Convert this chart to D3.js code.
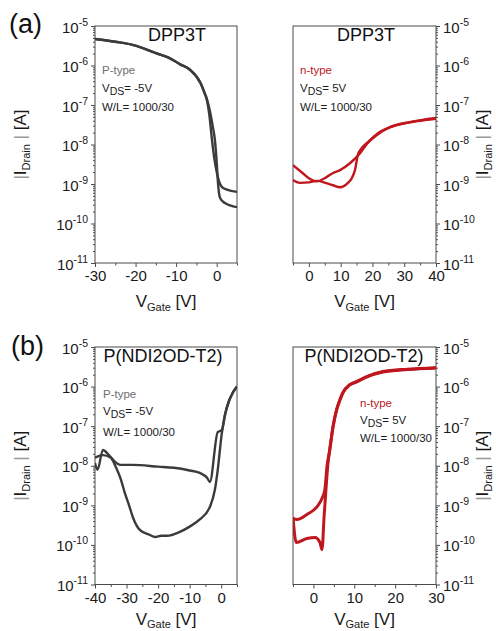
<!DOCTYPE html>
<html>
<head>
<meta charset="utf-8">
<script src="https://cdn.jsdelivr.net/npm/d3@7"></script>
<style>
  body { margin: 0; background: #fff; }
  svg { display: block; font-family: "Liberation Sans", Arial, sans-serif; }
</style>
</head>
<body>
<div id="chart"></div>
<script>
// transfer curves, [V_gate (V), |I_drain| (A)]
const dpp3tP_sweep1 = [[-30, 4.7e-6], [-25, 4.0e-6], [-20, 3.2e-6], [-15, 2.05e-6], [-12, 1.6e-6], [-9, 1.07e-6],
  [-6.6, 7.8e-7], [-4, 3.6e-7], [-3, 2.0e-7], [-2.4, 1.3e-7], [-1.8, 5.5e-8], [-1.2, 1.4e-8], [-0.6, 4.5e-9],
  [0.05, 1.9e-9], [0.6, 1.15e-9], [1.3, 8.3e-10], [2.5, 7.2e-10], [5, 6.3e-10]];
const dpp3tP_sweep2 = [[-30, 4.7e-6], [-25, 4.0e-6], [-20, 3.2e-6], [-15, 2.05e-6], [-12, 1.6e-6], [-9, 1.07e-6],
  [-6.6, 7.8e-7], [-4, 3.6e-7], [-3, 2.05e-7], [-2.4, 1.4e-7], [-1.6, 6.5e-8], [-0.9, 2.6e-8], [-0.45, 1.3e-8],
  [0, 3.5e-9], [0.3, 1.1e-9], [0.8, 4.5e-10], [2, 3.3e-10], [5, 2.6e-10]];

const dpp3tN_sweep1 = [[-5, 3.0e-9], [-2, 1.9e-9], [0, 1.4e-9], [2.5, 1.17e-9], [5, 1.4e-9], [7.6, 1.9e-9],
  [9.8, 2.24e-9], [13, 3.4e-9], [16.1, 6.0e-9], [18.3, 1.05e-8], [21.4, 1.74e-8], [25.5, 2.75e-8],
  [31.8, 3.7e-8], [40, 4.7e-8]];
const dpp3tN_sweep2 = [[-5, 1.26e-9], [-2.8, 1.07e-9], [0, 1.1e-9], [2.5, 1.2e-9], [5.5, 1.05e-9], [7.6, 9.3e-10],
  [9.8, 8.3e-10], [12.3, 1.07e-9], [13.5, 1.4e-9], [14.5, 2.24e-9], [15.4, 5.4e-9], [16.5, 7.9e-9],
  [18.3, 1.1e-8], [22.4, 2.1e-8], [27.7, 3.1e-8], [34, 3.9e-8], [40, 4.5e-8]];

const ndiP_sweep1 = [[-40, 1.17e-8], [-39.2, 7.9e-9], [-37.5, 2.5e-8], [-35.6, 1.86e-8], [-33.7, 1.26e-8],
  [-32, 1.05e-8], [-28, 1.05e-8], [-20, 9.5e-9], [-15, 8.9e-9], [-10, 7.6e-9], [-6.8, 6.6e-9], [-4.5, 5.0e-9],
  [-3.6, 3.9e-9], [-1.1, 7.1e-8], [0.2, 7.9e-8], [1.2, 2.0e-7], [2.4, 4.2e-7], [3.5, 6.6e-7], [5, 1.0e-6]];
const ndiP_sweep2 = [[-40, 1.6e-8], [-37.5, 1.86e-8], [-35, 1.6e-8], [-33.4, 9.3e-9], [-32, 5.0e-9],
  [-30.5, 2.0e-9], [-29, 8.9e-10], [-28, 5.0e-10], [-25.8, 2.4e-10], [-22.6, 1.78e-10], [-21, 1.58e-10],
  [-19, 1.7e-10], [-17.2, 1.7e-10], [-13.1, 2.14e-10], [-10, 2.9e-10], [-6.8, 4.4e-10], [-3.6, 9.1e-10],
  [-2, 2.5e-9], [-1.1, 7.9e-9], [0.2, 6.8e-8], [1.2, 1.9e-7], [2.4, 4.2e-7], [3.5, 6.6e-7], [5, 1.0e-6]];

const ndiN_sweepA = [[-5, 4.6e-10], [-4, 4.4e-10], [-1.6, 5.9e-10], [0.9, 9.3e-10], [2.2, 1.58e-9], [2.8, 2.5e-9],
  [3.3, 9.3e-9], [4.0, 2.5e-8], [4.8, 9.5e-8], [5.7, 2.6e-7], [6.5, 4.6e-7], [7.2, 6.9e-7], [8.9, 1.1e-6],
  [10.6, 1.32e-6], [13, 1.74e-6], [17, 2.34e-6], [23, 2.7e-6], [30, 2.95e-6]];
const ndiN_sweepB = [[-5, 5.0e-10], [-4.2, 1.15e-10], [-1.6, 1.45e-10], [0.4, 1.55e-10], [1.6, 1.15e-10],
  [2.1, 7.6e-11], [2.6, 5.0e-10], [3.1, 2.8e-9], [3.5, 1.0e-8], [4.0, 2.6e-8], [4.8, 1.0e-7], [5.7, 2.7e-7],
  [6.5, 4.7e-7], [7.2, 7.0e-7], [8.9, 1.12e-6], [10.6, 1.35e-6], [13, 1.78e-6], [17, 2.4e-6], [23, 2.75e-6],
  [30, 3.0e-6]];

const yDecades = [1e-11, 1e-10, 1e-9, 1e-8, 1e-7, 1e-6, 1e-5];
const xTicksA1 = [-30, -20, -10, 0], xMinorA1 = [-25, -15, -5, 5];
const xTicksA2 = [0, 10, 20, 30, 40], xMinorA2 = [-5, 5, 15, 25, 35];
const xTicksB1 = [-40, -30, -20, -10, 0], xMinorB1 = [-35, -25, -15, -5, 5];
const xTicksB2 = [0, 10, 20, 30], xMinorB2 = [-5, 5, 15, 25];

const GRAY = '#3b3b3b', RED = '#c0161d', AXIS = '#4a4a4a';

const panels = [
  { left: 95, right: 237, top: 26, bottom: 263, xDomain: [-30, 5], xTicks: xTicksA1, xMinor: xMinorA1,
    side: 'left', title: 'DPP3T', titleX: 177, type: 'P-type', typeColor: '#6e6e6e', vds: '= -5V',
    noteX: 102, noteY: [74, 92, 111], color: GRAY, width: 2.4, xTitleDy: 44,
    series: [dpp3tP_sweep1, dpp3tP_sweep2] },
  { left: 293, right: 436, top: 26, bottom: 263, xDomain: [-5, 40], xTicks: xTicksA2, xMinor: xMinorA2,
    side: 'right', title: 'DPP3T', titleX: 366, type: 'n-type', typeColor: RED, vds: '= 5V',
    noteX: 300, noteY: [74, 92, 111], color: RED, width: 2.4, xTitleDy: 44,
    series: [dpp3tN_sweep1, dpp3tN_sweep2] },
  { left: 95, right: 237, top: 347, bottom: 584.5, xDomain: [-40, 5], xTicks: xTicksB1, xMinor: xMinorB1,
    side: 'left', title: 'P(NDI2OD-T2)', titleX: 163, type: 'P-type', typeColor: '#6e6e6e', vds: '= -5V',
    noteX: 103, noteY: [398, 415, 436], color: GRAY, width: 2.4, xTitleDy: 40,
    series: [ndiP_sweep1, ndiP_sweep2] },
  { left: 293, right: 436, top: 347, bottom: 584.5, xDomain: [-5, 30], xTicks: xTicksB2, xMinor: xMinorB2,
    side: 'right', title: 'P(NDI2OD-T2)', titleX: 364, type: 'n-type', typeColor: RED, vds: '= 5V',
    noteX: 360, noteY: [407, 424, 442], color: RED, width: 3, xTitleDy: 40,
    series: [ndiN_sweepA, ndiN_sweepB] }
];

const svg = d3.select('#chart').append('svg')
  .attr('width', 496)
  .attr('height', 631);

const yMinor = [];
yDecades.slice(0, -1).forEach(d => { for (let k = 2; k < 10; k++) yMinor.push(k * d); });

function drawPanel(p, i) {
  const x = d3.scaleLinear().domain(p.xDomain).range([p.left, p.right]);
  const y = d3.scaleLog().domain([1e-11, 1e-5]).range([p.bottom, p.top]);
  const g = svg.append('g');

  g.append('clipPath').attr('id', `clip${i}`)
    .append('rect')
    .attr('x', p.left).attr('y', p.top)
    .attr('width', p.right - p.left).attr('height', p.bottom - p.top);

  // x axis
  const xa = g.append('g')
    .attr('transform', `translate(0,${p.bottom})`)
    .call(d3.axisBottom(x).tickValues(p.xTicks).tickSize(4).tickFormat(d => d));
  xa.select('.domain').remove();
  xa.selectAll('line').attr('stroke', AXIS);
  xa.selectAll('text').attr('y', 18).attr('dy', 0)
    .style('font-size', '15px').attr('fill', '#1a1a1a');
  const xm = g.append('g')
    .attr('transform', `translate(0,${p.bottom})`)
    .call(d3.axisBottom(x).tickValues(p.xMinor).tickSize(2.5).tickFormat(''));
  xm.select('.domain').remove();
  xm.selectAll('line').attr('stroke', AXIS);

  // y axis
  const axisFn = p.side === 'left' ? d3.axisLeft : d3.axisRight;
  const ax = p.side === 'left' ? p.left : p.right;
  const ya = g.append('g')
    .attr('transform', `translate(${ax},0)`)
    .call(axisFn(y).tickValues(yDecades).tickSize(4).tickPadding(3).tickFormat(''));
  ya.select('.domain').remove();
  ya.selectAll('line').attr('stroke', AXIS);
  ya.selectAll('.tick text')
    .attr('y', 6).attr('dy', 0)
    .attr('fill', '#1a1a1a')
    .style('font-size', '15px')
    .each(function (d) {
      const t = d3.select(this);
      t.append('tspan').text('10');
      t.append('tspan').attr('dy', -7).style('font-size', '10.5px')
        .text(Math.round(Math.log10(d)));
    });
  const ym = g.append('g')
    .attr('transform', `translate(${ax},0)`)
    .call(axisFn(y).tickValues(yMinor).tickSize(2).tickFormat(''));
  ym.select('.domain').remove();
  ym.selectAll('line').attr('stroke', AXIS);

  // frame
  g.append('rect')
    .attr('x', p.left).attr('y', p.top)
    .attr('width', p.right - p.left).attr('height', p.bottom - p.top)
    .attr('fill', 'none').attr('stroke', AXIS).attr('stroke-width', 1);

  // curves
  const line = d3.line()
    .x(d => x(d[0]))
    .y(d => y(d[1]))
    .curve(d3.curveMonotoneX);
  g.append('g').attr('clip-path', `url(#clip${i})`)
    .selectAll('path')
    .data(p.series)
    .enter()
    .append('path')
    .attr('d', line)
    .attr('fill', 'none')
    .attr('stroke', p.color)
    .attr('stroke-width', p.width)
    .attr('stroke-linejoin', 'round');

  // title + notes
  g.append('text')
    .attr('x', p.titleX).attr('y', p.top + 14.5)
    .attr('text-anchor', 'middle')
    .style('font-size', '18px').attr('fill', '#111')
    .text(p.title);

  g.append('text')
    .attr('x', p.noteX).attr('y', p.noteY[0])
    .style('font-size', '11.5px').attr('fill', p.typeColor)
    .text(p.type);
  const vds = g.append('text')
    .attr('x', p.noteX).attr('y', p.noteY[1])
    .style('font-size', '11.5px').attr('fill', '#1a1a1a');
  vds.append('tspan').text('V');
  vds.append('tspan').attr('dy', 3).style('font-size', '10.5px').text('DS');
  vds.append('tspan').attr('dy', -3).text(p.vds);
  g.append('text')
    .attr('x', p.noteX).attr('y', p.noteY[2])
    .style('font-size', '11.5px').attr('fill', '#1a1a1a')
    .text('W/L= 1000/30');

  // axis titles
  const xt = g.append('text')
    .attr('x', (p.left + p.right) / 2).attr('y', p.bottom + p.xTitleDy)
    .attr('text-anchor', 'middle')
    .style('font-size', '17px').attr('fill', '#1a1a1a');
  xt.append('tspan').text('V');
  xt.append('tspan').attr('dy', 3.5).style('font-size', '11px').text('Gate');
  xt.append('tspan').attr('dy', -3.5).text(' [V]');

  const tx = p.side === 'left' ? 26 : 488;
  const yt = g.append('text')
    .attr('transform', `translate(${tx},${(p.top + p.bottom) / 2}) rotate(-90)`)
    .attr('text-anchor', 'middle')
    .style('font-size', '17px').attr('fill', '#1a1a1a');
  yt.append('tspan').attr('fill', '#9a9a9a').text('|');
  yt.append('tspan').text('I');
  yt.append('tspan').attr('dy', 3.5).style('font-size', '11px').text('Drain');
  yt.append('tspan').attr('dy', -3.5).attr('fill', '#9a9a9a').text(' |');
  yt.append('tspan').text('  [A]');
}

panels.forEach(drawPanel);

svg.append('text').attr('x', 9).attr('y', 33)
  .style('font-size', '27px').attr('fill', '#111').text('(a)');
svg.append('text').attr('x', 11).attr('y', 355)
  .style('font-size', '27px').attr('fill', '#111').text('(b)');
</script>
</body>
</html>
